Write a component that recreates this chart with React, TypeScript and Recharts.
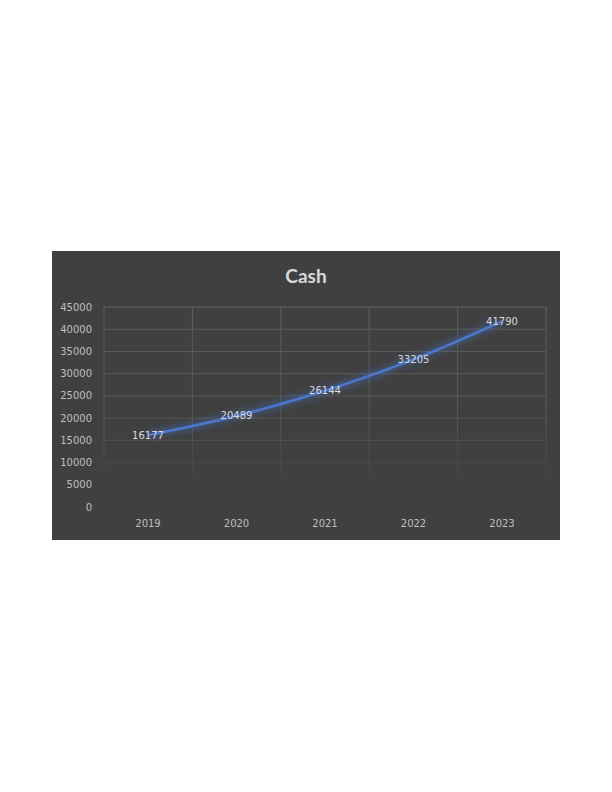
import { LineChart, Line, XAxis, YAxis, CartesianGrid, LabelList } from 'recharts';

const years = ['2019', '2020', '2021', '2022', '2023'];
const cash = [16177, 20489, 26144, 33205, 41790];
const yTicks = [0, 5000, 10000, 15000, 20000, 25000, 30000, 35000, 40000, 45000];

const data = years.map((year, i) => ({ year, cash: cash[i] }));

const W = 508;
const H = 289;
const M = { top: 56, right: 14, left: 0, bottom: 0 };
const halfBand = 44;

export default function App() {
  return (
    <div style={{ position: 'absolute', left: 52, top: 251, width: W, height: H, background: '#404040' }}>
      <div
        style={{
          position: 'absolute',
          top: 13,
          width: '100%',
          textAlign: 'center',
          color: '#d9d9d9',
          fontFamily: 'Lato, "Open Sans", sans-serif',
          fontWeight: 700,
          fontSize: 19,
        }}
      >
        Cash
      </div>
      <LineChart width={W} height={H} data={data} margin={M}>
        <defs>
          <linearGradient id="gridFade" gradientUnits="userSpaceOnUse" x1="0" y1="56" x2="0" y2="256">
            <stop offset="0" stopColor="#5e5e5e" stopOpacity={1} />
            <stop offset="0.6" stopColor="#5e5e5e" stopOpacity={0.7} />
            <stop offset="0.9" stopColor="#5e5e5e" stopOpacity={0} />
          </linearGradient>
          <filter id="glow" x="-20%" y="-50%" width="140%" height="200%">
            <feGaussianBlur stdDeviation="3" />
          </filter>
        </defs>
        <CartesianGrid
          stroke="url(#gridFade)"
          strokeWidth={1}
          verticalCoordinatesGenerator={({ offset }: any) =>
            [0, 1, 2, 3, 4, 5].map((i) => offset.left + (i * offset.width) / years.length)
          }
        />
        <XAxis
          dataKey="year"
          axisLine={false}
          tickLine={false}
          tickSize={0}
          tickMargin={13}
          height={33}
          padding={{ left: halfBand, right: halfBand }}
          tick={{ fontSize: 10, fill: '#bfbfbf', fontFamily: '"DejaVu Sans", sans-serif' }}
        />
        <YAxis
          domain={[0, 45000]}
          ticks={yTicks}
          interval={0}
          axisLine={false}
          tickLine={false}
          tickSize={0}
          tickMargin={12}
          width={52}
          tick={{ fontSize: 10, fill: '#bfbfbf', fontFamily: '"DejaVu Sans", sans-serif' }}
        />
        <Line
          dataKey="cash"
          type="monotone"
          stroke="#4472c4"
          strokeWidth={7}
          strokeOpacity={0.45}
          filter="url(#glow)"
          dot={false}
          activeDot={false}
          isAnimationActive={false}
        />
        <Line
          dataKey="cash"
          type="monotone"
          stroke="#4a78cf"
          strokeWidth={2.5}
          dot={false}
          activeDot={false}
          isAnimationActive={false}
        >
          <LabelList
            dataKey="cash"
            position="center"
            fill="#d9d9d9"
            fontSize={10}
            fontFamily='"DejaVu Sans", sans-serif'
          />
        </Line>
      </LineChart>
    </div>
  );
}
